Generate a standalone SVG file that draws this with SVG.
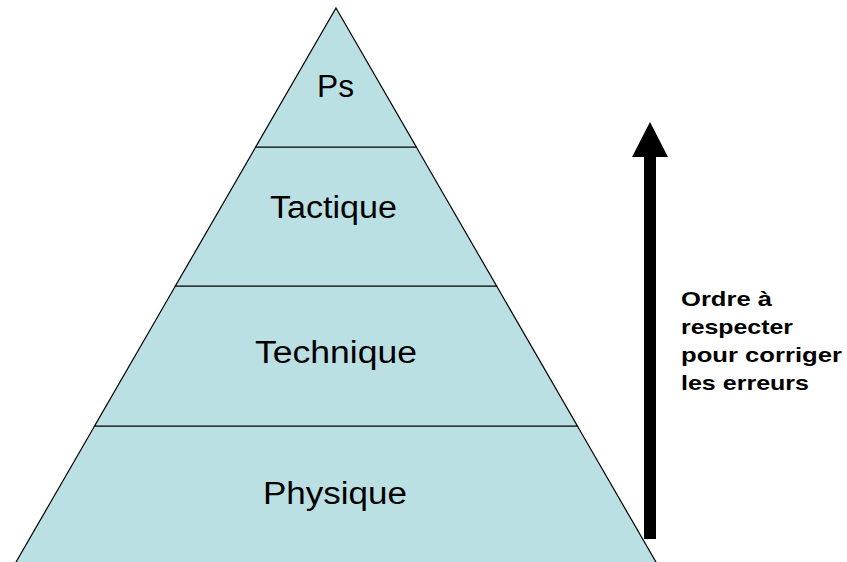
<svg xmlns="http://www.w3.org/2000/svg" width="847" height="562" viewBox="0 0 847 562">
  <style>
    .tier { fill: #BBE0E3; stroke: #000000; stroke-width: 1.2; stroke-linejoin: miter; }
    .lbl { font-family: "Liberation Sans", Arial, sans-serif; font-size: 31px; fill: #000000; text-anchor: middle; }
    .note { font-family: "Liberation Sans", Arial, sans-serif; font-size: 21px; font-weight: bold; fill: #000000; }
  </style>
  <rect x="0" y="0" width="847" height="562" fill="#FFFFFF"/>
  <g id="tier-physique">
    <polygon class="tier" points="94.6,426 577.4,426 657.1,564 14.9,564"/>
    <text class="lbl" x="335" y="504" textLength="144" lengthAdjust="spacingAndGlyphs">Physique</text>
  </g>
  <g id="tier-technique">
    <polygon class="tier" points="175.4,286 496.6,286 577.4,426 94.6,426"/>
    <text class="lbl" x="336" y="363" textLength="162" lengthAdjust="spacingAndGlyphs">Technique</text>
  </g>
  <g id="tier-tactique">
    <polygon class="tier" points="255.7,147 416.3,147 496.6,286 175.4,286"/>
    <text class="lbl" x="333.5" y="218" textLength="127" lengthAdjust="spacingAndGlyphs">Tactique</text>
  </g>
  <g id="tier-ps">
    <polygon class="tier" points="336,8 416.3,147 255.7,147"/>
    <text class="lbl" x="335.5" y="97" font-size="33" textLength="37" lengthAdjust="spacingAndGlyphs">Ps</text>
  </g>
  <g id="connectors">
    <polygon points="644,539 656,539 656,157 668,157 650,122 632,157 644,157" fill="#000000"/>
  </g>
  <g id="note">
    <text class="note" x="681" y="306" textLength="91" lengthAdjust="spacingAndGlyphs">Ordre à</text>
    <text class="note" x="681" y="334" textLength="112" lengthAdjust="spacingAndGlyphs">respecter</text>
    <text class="note" x="681" y="362" textLength="161" lengthAdjust="spacingAndGlyphs">pour corriger</text>
    <text class="note" x="681" y="390" textLength="128" lengthAdjust="spacingAndGlyphs">les erreurs</text>
  </g>
</svg>
